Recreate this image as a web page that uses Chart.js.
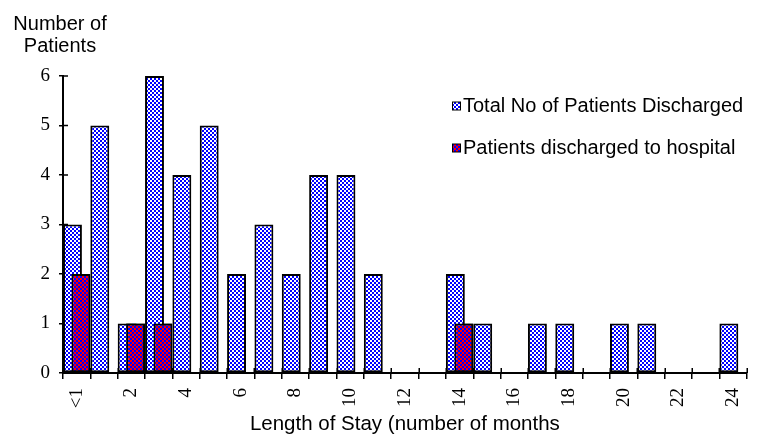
<!DOCTYPE html>
<html>
<head>
<meta charset="utf-8">
<script src="https://cdn.jsdelivr.net/npm/chart.js@4/dist/chart.umd.min.js"></script>
<style>
  html, body { margin: 0; padding: 0; background: #fff; }
  canvas { display: block; }
</style>
</head>
<body>
<canvas id="stayChart" width="765" height="439"></canvas>
<script>
// Length of stay categories (months)
const stayCategories = ['<1', '1', '2', '3', '4', '5', '6', '7', '8', '9', '10', '11', '12',
  '13', '14', '15', '16', '17', '18', '19', '20', '21', '22', '23', '24'];
// Categories whose label is printed under the axis
const shownLabels = ['<1', '2', '4', '6', '8', '10', '12', '14', '16', '18', '20', '22', '24'];

// Number of patients per category
const totalDischarged = [3, 5, 1, 6, 4, 5, 2, 3, 2, 4, 4, 2, 0, 0, 2, 1, 0, 1, 1, 0, 1, 1, 0, 0, 1];
const dischargedToHospital = [2, null, 1, 1, null, null, null, null, null, null, null, null, null,
  null, 1, null, null, null, null, null, null, null, null, null, null];

const yTicks = [0, 1, 2, 3, 4, 5, 6];
const seriesNames = ['Total No of Patients Discharged', 'Patients discharged to hospital'];
const yTitleLines = ['Number of', 'Patients'];
const xTitle = 'Length of Stay (number of months';

const SANS = '"Liberation Sans", Arial, sans-serif';
const SERIF = '"Liberation Serif", "Times New Roman", serif';

const canvas = document.getElementById('stayChart');
const ctx = canvas.getContext('2d');

// 2px checkerboard fill
function checker(base, cell) {
  const p = document.createElement('canvas');
  p.width = 4; p.height = 4;
  const g = p.getContext('2d');
  g.fillStyle = base; g.fillRect(0, 0, 4, 4);
  g.fillStyle = cell; g.fillRect(0, 0, 2, 2); g.fillRect(2, 2, 2, 2);
  return ctx.createPattern(p, 'repeat');
}
const bluePattern = checker('#ffffff', '#0000ff');
const redPattern = checker('#ff0000', '#0000ff');
const seriesFills = [bluePattern, redPattern];

// Tick marks that cross the axis lines (inner halves)
const crossTicks = {
  id: 'crossTicks',
  beforeDatasetsDraw(chart) {
    const { ctx, chartArea } = chart;
    const xs = chart.scales.x, ys = chart.scales.y;
    const n = chart.data.labels.length;
    const step = (xs.right - xs.left) / n;
    ctx.save();
    ctx.strokeStyle = '#000';
    ctx.lineWidth = 1.5;
    ctx.beginPath();
    for (let i = 0; i <= n; i++) {
      const x = Math.round(xs.left + i * step) + 0.25;
      ctx.moveTo(x, chartArea.bottom);
      ctx.lineTo(x, chartArea.bottom - 5);
    }
    ys.ticks.forEach(t => {
      const y = ys.getPixelForValue(t.value);
      ctx.moveTo(chartArea.left, y);
      ctx.lineTo(chartArea.left + 5, y);
    });
    ctx.stroke();
    ctx.restore();
  }
};

// Hospital bars sit in front of the total bars
const hospitalOnTop = {
  id: 'hospitalOnTop',
  afterDatasetsDraw(chart) {
    const meta = chart.getDatasetMeta(1);
    if (meta && meta.visible) meta.controller.draw();
  }
};

// Axis heading above the value axis, and the legend inside the plot
const labelsPlugin = {
  id: 'labelsPlugin',
  afterDraw(chart) {
    const c = chart.ctx;
    c.save();
    c.fillStyle = '#000';
    c.font = '20px ' + SANS;
    c.textAlign = 'center';
    c.textBaseline = 'alphabetic';
    c.fillText(yTitleLines[0], 60, 30);
    c.fillText(yTitleLines[1], 60, 52);

    const rows = [106, 148];
    c.textAlign = 'left';
    c.textBaseline = 'middle';
    chart.data.datasets.forEach((ds, i) => {
      const y = rows[i];
      c.fillStyle = '#000';
      c.fillRect(452, y - 4.5, 9, 9);
      c.fillStyle = seriesFills[i];
      c.fillRect(453, y - 3.5, 7, 7);
      c.fillStyle = '#000';
      c.fillText(ds.label, 463, y);
    });
    c.restore();
  }
};

new Chart(ctx, {
  type: 'bar',
  data: {
    labels: stayCategories,
    datasets: [
      {
        label: seriesNames[0],
        data: totalDischarged,
        backgroundColor: bluePattern,
        borderColor: '#000',
        borderWidth: 2,
        borderSkipped: false,
        categoryPercentage: 0.618,
        barPercentage: 2.24
      },
      {
        label: seriesNames[1],
        data: dischargedToHospital,
        backgroundColor: redPattern,
        borderColor: '#000',
        borderWidth: 2,
        borderSkipped: false,
        categoryPercentage: 0.618,
        barPercentage: 2.24
      }
    ]
  },
  options: {
    responsive: false,
    animation: false,
    devicePixelRatio: 1,
    layout: { padding: { top: 76, right: 6, left: 0, bottom: 0 } },
    plugins: {
      legend: { display: false },
      tooltip: { enabled: false }
    },
    scales: {
      x: {
        grid: { display: true, drawOnChartArea: false, offset: true, tickLength: 6, color: '#000', lineWidth: 1.5 },
        border: { display: true, color: '#000', width: 2 },
        ticks: {
          autoSkip: false,
          minRotation: 90,
          maxRotation: 90,
          padding: 9,
          color: '#000',
          font: { family: SERIF, size: 19 },
          callback(value, index) {
            const lab = stayCategories[index];
            return shownLabels.includes(lab) ? lab : '';
          }
        },
        title: {
          display: true,
          text: xTitle,
          color: '#000',
          font: { family: SANS, size: 20.5 },
          padding: { top: 0, bottom: 2 }
        },
        afterFit(scale) { scale.height = 66; }
      },
      y: {
        min: 0,
        max: 6,
        afterBuildTicks(scale) { scale.ticks = yTicks.map(v => ({ value: v })); },
        grid: { display: true, drawOnChartArea: false, tickLength: 4, color: '#000', lineWidth: 1.5 },
        border: { display: true, color: '#000', width: 2 },
        ticks: {
          padding: 9,
          color: '#000',
          font: { family: SERIF, size: 19 }
        },
        afterFit(scale) { scale.width = 63; }
      }
    }
  },
  plugins: [crossTicks, hospitalOnTop, labelsPlugin]
});
</script>
</body>
</html>
